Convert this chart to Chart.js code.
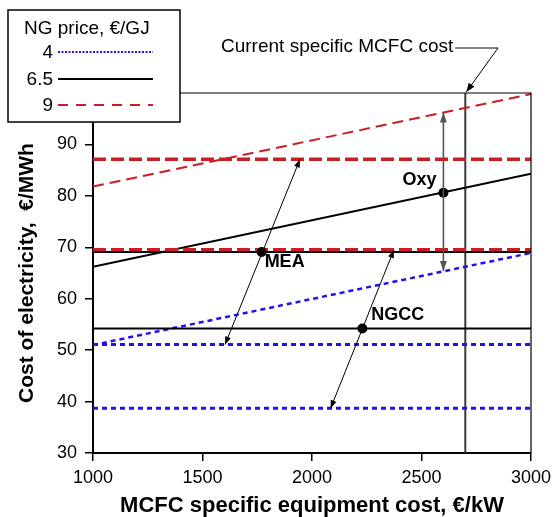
<!DOCTYPE html>
<html><head><meta charset="utf-8">
<script src="https://cdn.jsdelivr.net/npm/chart.js@4/dist/chart.umd.min.js"></script>
<style>html,body{margin:0;padding:0;background:#fff}canvas{display:block}</style>
</head><body>
<canvas id="c" width="553" height="517"></canvas>
<script>
// ---- data ----
const xEnds = [1000, 3000];
const ngPrices = ['4', '6.5', '9'];
const mcfc4 = [51.0, 68.9];
const mcfc65 = [66.2, 84.3];
const mcfc9 = [81.8, 99.8];
const meaCost = [51.1, 69.1, 87.1];   // NG price 4, 6.5, 9
const ngccCost = [38.7, 54.2, 69.5];  // NG price 4, 6.5, 9
const currentMcfcCost = 2700;
const pointNames = ['Oxy', 'MEA', 'NGCC'];
const pointX = [2600, 1770, 2230];
const pointY = [80.6, 69.1, 54.2];
const arrowFromX = [2600, 1945, 2374];
const arrowFromY = [96.2, 87.1, 69.5];
const arrowToX = [2600, 1603, 2085];
const arrowToY = [65.4, 51.1, 38.7];
const yMin = 30, yMax = 100, yStep = 10;
const xMin = 1000, xMax = 3000, xStep = 500;
const annotationText = 'Current specific MCFC cost';
const legendTitle = 'NG price, €/GJ';
const xTitle = 'MCFC specific equipment cost, €/kW';
const yTitle = 'Cost of electricity,  €/MWh';

// ---- styles ----
const FONT = "'Liberation Sans', Arial, Helvetica, sans-serif";
const BLUE = '#2211ee', RED = '#cc1c24', BLACK = '#000';
const styles = {
  '4':   {color: BLUE,  slopeW: 2.5, slopeDash: [5, 4], flatW: 3,   flatDash: [5, 4]},
  '6.5': {color: BLACK, slopeW: 2,   slopeDash: [],     flatW: 2,   flatDash: []},
  '9':   {color: RED,   slopeW: 2,   slopeDash: [11, 6], flatW: 3.5, flatDash: [13, 5]}
};

const line = (xs, ys) => xs.map((x, i) => ({x, y: ys[i]}));
const datasets = [];
const slopeSeries = {'4': mcfc4, '6.5': mcfc65, '9': mcfc9};
datasets.push({data: line([currentMcfcCost, currentMcfcCost], [yMin, yMax]), borderColor: '#3a3a3a', borderWidth: 2, order: 20});
ngPrices.forEach((p, i) => {
  const s = styles[p];
  datasets.push({data: line(xEnds, slopeSeries[p]), borderColor: s.color, borderWidth: s.slopeW, borderDash: s.slopeDash, order: 10 - i});
  datasets.push({data: line(xEnds, [meaCost[i], meaCost[i]]), borderColor: s.color, borderWidth: s.flatW, borderDash: s.flatDash, order: 7 - i});
  datasets.push({data: line(xEnds, [ngccCost[i], ngccCost[i]]), borderColor: s.color, borderWidth: s.flatW, borderDash: s.flatDash, order: 4 - i});
});
datasets.push({data: line(pointX, pointY), showLine: false, pointRadius: 5, pointBackgroundColor: '#000', pointBorderWidth: 0, order: 0});
datasets.forEach(d => { if (d.pointRadius === undefined) d.pointRadius = 0; d.fill = false; d.tension = 0; });

function arrowHead(ctx, x1, y1, x2, y2, len, half) {
  const a = Math.atan2(y2 - y1, x2 - x1);
  ctx.beginPath();
  ctx.moveTo(x2, y2);
  ctx.lineTo(x2 - len * Math.cos(a) + half * Math.sin(a), y2 - len * Math.sin(a) - half * Math.cos(a));
  ctx.lineTo(x2 - len * Math.cos(a) - half * Math.sin(a), y2 - len * Math.sin(a) + half * Math.cos(a));
  ctx.closePath();
  ctx.fill();
}
function arrow(ctx, x1, y1, x2, y2, color, w, len, half, both) {
  ctx.save();
  ctx.strokeStyle = color; ctx.fillStyle = color; ctx.lineWidth = w; ctx.setLineDash([]);
  ctx.beginPath(); ctx.moveTo(x1, y1); ctx.lineTo(x2, y2); ctx.stroke();
  arrowHead(ctx, x1, y1, x2, y2, len, half);
  if (both) arrowHead(ctx, x2, y2, x1, y1, len, half);
  ctx.restore();
}

const overlay = {
  id: 'overlay',
  afterDatasetsDraw(chart) {
    const {ctx, chartArea: ca, scales: {x, y}} = chart;
    ctx.save();
    ctx.strokeStyle = '#000'; ctx.lineWidth = 1.2;
    ctx.beginPath(); ctx.moveTo(ca.left, ca.top); ctx.lineTo(ca.right, ca.top); ctx.lineTo(ca.right, ca.bottom); ctx.stroke();
    for (let i = 0; i < pointNames.length; i++) {
      const gray = i === 0;
      arrow(ctx, x.getPixelForValue(arrowFromX[i]), y.getPixelForValue(arrowFromY[i]),
            x.getPixelForValue(arrowToX[i]), y.getPixelForValue(arrowToY[i]),
            gray ? '#555' : '#000', gray ? 1.6 : 1, gray ? 10 : 8, gray ? 3.5 : 3, true);
    }
    ctx.fillStyle = '#000';
    ctx.font = 'bold 18px ' + FONT;
    const offs = [[-41, -8], [3, 15], [9, -9]];
    pointNames.forEach((n, i) => {
      ctx.textAlign = 'left'; ctx.textBaseline = 'alphabetic';
      ctx.fillText(n, x.getPixelForValue(pointX[i]) + offs[i][0], y.getPixelForValue(pointY[i]) + offs[i][1]);
    });
    ctx.restore();
  },
  afterDraw(chart) {
    const {ctx, chartArea: ca, scales: {x, y}} = chart;
    ctx.save();
    ctx.font = '19px ' + FONT;
    ctx.fillStyle = '#000'; ctx.textAlign = 'left'; ctx.textBaseline = 'middle';
    ctx.fillText(annotationText, 221, 47);
    const tw = ctx.measureText(annotationText).width;
    ctx.strokeStyle = '#000'; ctx.lineWidth = 1;
    ctx.beginPath(); ctx.moveTo(221 + tw + 2, 48); ctx.lineTo(498, 48); ctx.stroke();
    arrow(ctx, 498, 48, x.getPixelForValue(currentMcfcCost) + 1, ca.top - 1, '#000', 1, 9, 3.5, false);
    ctx.fillStyle = '#fff'; ctx.fillRect(8, 10, 172, 112);
    ctx.strokeStyle = '#000'; ctx.lineWidth = 1.5; ctx.strokeRect(8, 10, 172, 112);
    ctx.fillStyle = '#000'; ctx.font = '19px ' + FONT; ctx.textBaseline = 'middle';
    ctx.textAlign = 'left';
    ctx.fillText(legendTitle, 24, 29);
    const rowsY = [52, 79, 105];
    ngPrices.forEach((p, i) => {
      const s = styles[p];
      ctx.textAlign = 'right'; ctx.fillStyle = '#000';
      ctx.fillText(p, 53, rowsY[i] + 1);
      ctx.strokeStyle = s.color; ctx.lineWidth = 2;
      ctx.setLineDash(p === '4' ? [2, 1.5] : (p === '9' ? [10, 8] : []));
      ctx.beginPath(); ctx.moveTo(58, rowsY[i]); ctx.lineTo(153, rowsY[i]); ctx.stroke();
      ctx.setLineDash([]);
    });
    ctx.restore();
  }
};

Chart.defaults.font.family = FONT;
Chart.defaults.color = '#000';
new Chart(document.getElementById('c'), {
  type: 'line',
  data: {datasets},
  options: {
    responsive: false, animation: false, devicePixelRatio: 1,
    layout: {padding: {top: 93, right: 22, left: 0, bottom: 0}},
    plugins: {legend: {display: false}, tooltip: {enabled: false}},
    scales: {
      x: {
        type: 'linear', min: xMin, max: xMax,
        ticks: {stepSize: xStep, font: {size: 18}, color: '#000', padding: 6, maxRotation: 0, callback: v => String(v)},
        grid: {drawOnChartArea: false, tickLength: 8, color: '#000', lineWidth: 1.5},
        border: {color: '#000', width: 2},
        title: {display: true, text: xTitle, font: {size: 22, weight: 'bold', lineHeight: 1}, color: '#000', padding: {top: 0, bottom: 0}},
        afterFit: s => { s.height = 64; s.paddingLeft = 0; s.paddingRight = 0; }
      },
      y: {
        type: 'linear', min: yMin, max: yMax,
        ticks: {stepSize: yStep, font: {size: 18}, color: '#000', padding: 8, callback: v => String(v)},
        grid: {drawOnChartArea: false, tickLength: 8, color: '#000', lineWidth: 1.5},
        border: {color: '#000', width: 2},
        title: {display: true, text: yTitle, font: {size: 21, weight: 'bold'}, color: '#000', padding: {top: 15, bottom: 0}},
        afterFit: s => { s.width = 93; }
      }
    }
  },
  plugins: [overlay]
});
</script>
</body></html>
